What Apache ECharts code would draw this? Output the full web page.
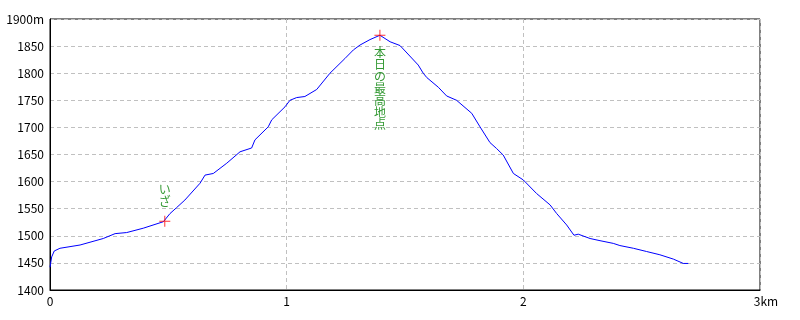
<!DOCTYPE html>
<html>
<head>
<meta charset="utf-8">
<script src="https://cdn.jsdelivr.net/npm/echarts@6/dist/echarts.min.js"></script>
<style>html,body{margin:0;padding:0;background:#fff;}#c{width:800px;height:320px;}</style>
</head>
<body>
<div id="c"></div>
<script>
// distance (km) and elevation (m) of the track
const distKm = [0,0.007,0.018,0.042,0.127,0.225,0.275,0.324,0.394,0.479,0.485,0.507,0.535,0.57,0.634,0.655,0.69,0.747,0.803,0.852,0.866,0.922,0.937,0.993,1.014,1.042,1.077,1.127,1.183,1.246,1.282,1.31,1.352,1.394,1.437,1.479,1.556,1.577,1.592,1.641,1.676,1.718,1.782,1.817,1.859,1.887,1.915,1.958,2.0,2.056,2.113,2.141,2.183,2.214,2.232,2.282,2.324,2.38,2.408,2.465,2.521,2.577,2.634,2.676,2.697];
const elevM = [1442,1461,1472,1477,1483,1495,1504,1506,1514,1526,1527,1541,1552,1566,1597,1612,1615,1634,1655,1662,1677,1701,1714,1738,1750,1755,1757,1770,1800,1827,1843,1852,1862,1870,1858,1851,1815,1800,1792,1774,1758,1750,1726,1701,1672,1661,1649,1615,1603,1578,1557,1541,1520,1501,1503,1495,1491,1486,1482,1477,1471,1465,1457,1449,1449];
// marked points
const markKm = [0.485, 1.394];
const markM = [1527, 1870];
const markText = ['いざ', '本日の最高地点'];
const markPos = ['top', 'bottom'];
// axis ticks
const xTicks = [0, 1, 2, 3];
const yMin = 1400, yMax = 1900, yStep = 50;

const font = '"Noto Sans CJK JP", sans-serif';
const chart = echarts.init(document.getElementById('c'), null, {renderer: 'canvas'});
chart.setOption({
  animation: false,
  backgroundColor: '#fff',
  grid: {left: 50, right: 40, top: 19, bottom: 30, show: true, borderColor: '#000', borderWidth: 1, backgroundColor: 'transparent'},
  xAxis: {
    type: 'value', min: xTicks[0], max: xTicks[xTicks.length-1], interval: 1,
    axisLine: {show: true, lineStyle: {color: '#000', width: 1}},
    axisTick: {show: false},
    splitLine: {show: true, lineStyle: {color: '#c0c0c0', type: [4, 3], width: 1}},
    axisLabel: {
      color: '#000', fontSize: 12, fontFamily: font, margin: 5,
      formatter: v => v === 3 ? '{p|}3km' : String(v),
      rich: {p: {width: 12}}
    }
  },
  yAxis: {
    type: 'value', min: yMin, max: yMax, interval: yStep,
    axisLine: {show: true, lineStyle: {color: '#000', width: 1}},
    axisTick: {show: false},
    splitLine: {show: true, lineStyle: {color: '#c0c0c0', type: [4, 3], width: 1}},
    axisLabel: {
      color: '#000', fontSize: 12, fontFamily: font, margin: 6,
      formatter: v => v === yMax ? v + 'm' : String(v)
    }
  },
  series: [
    {
      type: 'line', data: distKm.map((d, i) => [d, elevM[i]]),
      showSymbol: false, symbol: 'none',
      lineStyle: {color: '#0000ff', width: 1}, z: 3
    },
    {
      type: 'scatter',
      data: markKm.map((d, i) => ({
        value: [d, markM[i]],
        label: {
          show: true, position: markPos[i],
          formatter: markText[i].split('').join('\n'),
          color: '#008000', fontSize: 12, fontFamily: font, lineHeight: 12,
          distance: i === 0 ? 8 : 6
        }
      })),
      symbol: 'path://M5,0h1v5h5v1h-5v5h-1v-5h-5v-1h5z',
      symbolSize: 11,
      itemStyle: {color: '#ff0000'},
      z: 5
    }
  ]
});
</script>
</body>
</html>
